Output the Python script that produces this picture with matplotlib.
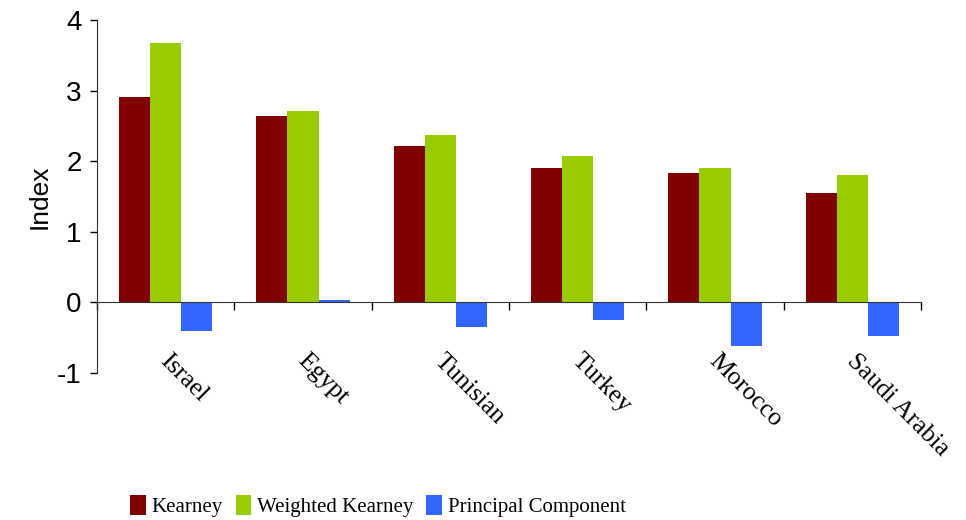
import matplotlib
matplotlib.use("Agg")
import matplotlib.pyplot as plt
import matplotlib.transforms as mtransforms
import numpy as np

plt.rcParams["axes.unicode_minus"] = False

countries = ["Israel", "Egypt", "Tunisian", "Turkey", "Morocco", "Saudi Arabia"]
kearney = [2.91, 2.64, 2.21, 1.91, 1.83, 1.55]
weighted_kearney = [3.67, 2.71, 2.37, 2.07, 1.91, 1.80]
principal_component = [-0.41, 0.04, -0.35, -0.25, -0.62, -0.47]

series = [
    ("Kearney", kearney, "#800000"),
    ("Weighted Kearney", weighted_kearney, "#99cc00"),
    ("Principal Component", principal_component, "#3366ff"),
]

fig = plt.figure(figsize=(9.66, 5.2), dpi=100)
ax = fig.add_axes([0.1004, 0.2827, 0.853, 0.6788])

x = np.arange(len(countries)) + 0.5
width = 0.226
for i, (name, vals, color) in enumerate(series):
    ax.bar(x + (i - 1) * width, vals, width, color=color, label=name)

ax.set_xlim(0, len(countries))
ax.set_ylim(-1, 4)
ax.set_yticks([-1, 0, 1, 2, 3, 4])
ax.tick_params(axis="y", labelsize=20, length=5, direction="out", width=1, pad=6)
for lbl in ax.get_yticklabels():
    lbl.set_family("Liberation Sans")
ax.set_ylabel("Index", fontsize=19, family="Liberation Sans", labelpad=4)

ax.spines["top"].set_visible(False)
ax.spines["right"].set_visible(False)
ax.spines["bottom"].set_position(("data", 0))
ax.spines["left"].set_color("#333333")
ax.spines["bottom"].set_color("#333333")

# category boundaries carry the tick marks, names sit at the centres
ax.set_xticks(np.arange(len(countries) + 1))
ax.set_xticklabels([])
ax.tick_params(axis="x", which="major", length=6, direction="out", width=1)
ax.set_xticks(x, minor=True)
ax.set_xticklabels(countries, minor=True, rotation=-45, ha="left", va="top",
                   rotation_mode="anchor", fontsize=18.5, family="Liberation Serif")
ax.tick_params(axis="x", which="minor", length=0, pad=34)
shift = mtransforms.ScaledTranslation(4 / 72, 0, fig.dpi_scale_trans)
for lbl in ax.get_xticklabels(minor=True):
    lbl.set_transform(lbl.get_transform() + shift)

fig.legend(loc="center", bbox_to_anchor=(378 / 966, 0.027), ncol=3, frameon=False,
           prop={"family": "Liberation Serif", "size": 15},
           handlelength=0.75, handleheight=1.1, handletextpad=0.3, columnspacing=0.6)

fig.savefig("out.png", dpi=100)
